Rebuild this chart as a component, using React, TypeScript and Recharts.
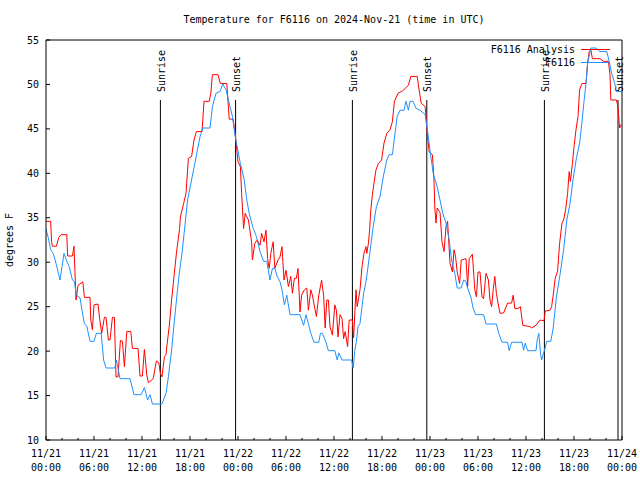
import { LineChart, Line, XAxis, YAxis, ReferenceLine } from 'recharts';

// hours since 11/21 00:00 UTC, degrees F
const analysisReadings: [number, number][] = [
  [0, 34.6], [0.58, 34.6], [0.7, 32.3], [0.8, 31.8], [1.3, 31.8], [1.6, 32.8], [1.9, 33.1],
  [2.6, 33.1], [2.7, 30.7], [3.3, 30.7], [3.5, 31.8], [3.75, 25.75], [4.0, 27.4], [4.6, 27.8],
  [4.8, 26.05], [5.5, 26.05], [5.6, 23.5], [5.8, 22.4], [6.0, 25.2], [6.5, 25.3], [6.7, 23.7],
  [6.96, 22], [7.3, 23.8], [7.5, 23.8], [7.8, 21.25], [8.0, 21.25], [8.3, 23.8], [8.55, 23.8],
  [8.75, 17.1], [9.0, 17.1], [9.3, 21.2], [9.55, 21.1], [9.8, 18.25], [10.1, 22.2], [10.6, 22.2],
  [10.8, 20.3], [11.5, 20.3], [11.75, 17.2], [12.05, 17.2], [12.3, 20.2], [12.6, 17.3],
  [12.8, 16.45], [13.4, 16.9], [13.8, 18.9], [14.1, 18.7], [14.3, 17.5], [14.5, 17.1],
  [14.8, 19.4], [15.0, 19.6], [15.1, 20.5], [15.4, 22.75], [15.7, 25.75], [16.0, 28.4],
  [16.3, 31.0], [16.7, 33.8], [16.8, 35.1], [17.2, 36.6], [17.5, 37.75], [17.8, 41.7],
  [18.2, 41.9], [18.5, 43.75], [18.8, 44.7], [19.5, 44.7], [19.75, 48.1], [20.4, 48.1],
  [20.6, 49.0], [20.8, 51.1], [21.5, 51.1], [21.8, 50.1], [22.6, 50.1], [22.9, 46.1],
  [23.4, 46.1], [23.75, 43.6], [24.0, 41.3], [24.3, 40.75], [24.45, 37.75], [24.7, 33.8],
  [24.9, 35.5], [25.3, 34.75], [25.7, 32.3], [25.8, 30.25], [26.1, 32.1], [26.4, 32.5],
  [26.75, 31.9], [26.95, 33.25], [27.25, 32.3], [27.5, 33.6], [27.7, 30.4], [27.9, 29.3],
  [28.1, 31], [28.4, 32.3], [28.6, 29.3], [29.0, 30.25], [29.25, 30.6], [29.5, 31.75],
  [29.75, 28], [30.0, 29.1], [30.3, 27.25], [30.6, 28.4], [30.8, 26.5], [31.05, 28.2],
  [31.3, 28.2], [31.5, 29.3], [31.75, 24.4], [31.95, 26.3], [32.3, 26.9], [32.6, 27.1],
  [32.8, 24.6], [33.1, 26.9], [33.3, 26.3], [33.6, 24.8], [33.8, 23.9], [34.1, 26.3],
  [34.45, 28], [34.7, 26.3], [34.9, 22.6], [35.1, 25.75], [35.3, 25.75], [35.5, 22.75],
  [35.8, 21.8], [36.1, 25.2], [36.3, 24.6], [36.5, 21.6], [36.75, 24.1], [37.0, 23.7],
  [37.2, 21.4], [37.4, 22.2], [37.7, 20.5], [37.9, 23.5], [38.3, 23.5], [38.45, 21.5],
  [38.75, 26.9], [38.9, 25], [39.25, 26.9], [39.5, 29.5], [39.75, 31], [40.0, 31.75],
  [40.1, 31], [40.3, 32.1], [40.45, 33.6], [40.6, 35.9], [40.8, 37.6], [41.0, 38.9],
  [41.25, 40.4], [41.55, 41.1], [41.95, 41.5], [42.25, 43.4], [42.6, 44.5], [43.0, 44.9],
  [43.3, 45.8], [43.55, 48.1], [44.0, 49.0], [44.6, 49.3], [45.3, 49.9], [45.6, 50.9],
  [46.4, 50.9], [46.7, 49.0], [46.9, 47.9], [47.4, 47.5], [47.7, 44.1], [47.9, 42.4],
  [48.3, 42.1], [48.5, 39.25], [48.6, 36.1], [48.75, 34.4], [48.9, 36.1], [49.25, 35.6],
  [49.5, 32.3], [49.75, 31.2], [50.0, 34.0], [50.2, 34.6], [50.5, 29.9], [50.8, 28.9],
  [51.0, 31.4], [51.2, 30.6], [51.4, 28.9], [51.7, 27.6], [51.9, 30.25], [52.5, 30.4],
  [52.7, 27.25], [52.9, 30.4], [53.3, 30.9], [53.6, 26.9], [53.8, 26.1], [54.0, 28.9],
  [54.25, 28.9], [54.5, 26.1], [54.7, 25.9], [55.0, 28.75], [55.3, 28.0], [55.5, 25.75],
  [55.7, 25.0], [55.9, 26.9], [56.1, 28.4], [56.3, 26.5], [56.5, 25.4], [56.75, 24.25],
  [57.2, 24.3], [57.7, 25.4], [58.2, 25.4], [58.4, 26.3], [58.6, 24.8], [59.0, 24.8],
  [59.3, 25.0], [59.6, 22.9], [60.5, 22.75], [60.7, 22.6], [61.25, 22.9], [61.75, 23.5],
  [62.25, 23.4], [62.4, 24.5], [63.0, 24.6], [63.2, 25.0], [63.4, 26.3], [63.65, 28.2],
  [63.95, 29.0], [64.2, 32.1], [64.5, 34.4], [64.7, 34.75], [64.95, 35.9], [65.2, 37.75],
  [65.4, 40.2], [65.55, 39.1], [65.8, 41.1], [66.0, 43.0], [66.25, 44.9], [66.5, 46.4],
  [66.7, 49.4], [67.0, 50.1], [67.5, 50.1], [67.7, 52.4], [67.9, 53.7], [68.1, 53.9],
  [68.3, 52.9], [69.25, 52.9], [69.7, 52.6], [70.3, 52.6], [70.5, 51.1], [70.6, 48.25],
  [71.3, 48.25], [71.5, 47.5], [71.7, 45.1], [71.9, 45.5],
];

const stationReadings: [number, number][] = [
  [0, 33.7], [0.3, 32.7], [0.58, 31.4], [0.9, 31.0], [1.3, 29.7], [1.75, 28.0], [2.0, 29.5],
  [2.25, 31.0], [2.6, 30.1], [2.9, 29.5], [3.3, 28.0], [3.55, 27.8], [3.8, 26.3], [4.25, 26.0],
  [4.5, 24.6], [4.8, 23.1], [5.1, 22.8], [5.5, 21.1], [6.0, 21.1], [6.3, 22.0], [6.9, 22.0],
  [7.2, 19.0], [7.5, 18.1], [8.6, 18.1], [8.8, 19.0], [9.25, 16.9], [10.5, 16.9], [11.0, 15.1],
  [11.9, 15.1], [12.3, 15.9], [12.7, 14.5], [13.0, 15.1], [13.3, 14.05], [14.5, 14.05],
  [15.0, 15.25], [15.3, 17.1], [15.7, 20.1], [16.1, 23.9], [16.6, 28.3], [17.0, 31.0],
  [17.7, 37.0], [18.6, 41.1], [19.25, 44.1], [19.6, 45.1], [20.5, 45.1], [20.8, 47.5],
  [21.25, 49.0], [21.75, 49.2], [22.1, 50.05], [22.5, 49.4], [22.9, 47.9], [23.3, 46.4],
  [23.7, 43.9], [24.3, 41.1], [24.75, 39.4], [25.1, 37.0], [25.4, 35.5], [25.9, 33.8],
  [26.3, 32.9], [26.75, 31.2], [27.2, 30.1], [27.6, 30.1], [28.0, 28.0], [28.3, 29.3],
  [28.6, 29.3], [28.9, 28.4], [29.25, 27.8], [29.5, 26.9], [29.8, 25.2], [30.1, 26.3],
  [30.5, 24.1], [31.75, 24.1], [32.2, 22.9], [32.5, 24.1], [32.8, 23.1], [33.1, 22.0],
  [33.5, 21.0], [34.1, 21.0], [34.3, 22.0], [34.55, 22.0], [35.0, 21.0], [35.3, 20.05],
  [36.1, 20.05], [36.4, 19.0], [36.6, 19.8], [37.0, 19.0], [38.2, 19.0], [38.4, 18.1],
  [38.6, 20.1], [38.8, 21.1], [39.0, 22.75], [39.25, 23.1], [39.5, 25.0], [39.7, 26.5],
  [40.0, 27.8], [40.4, 30.5], [40.9, 34.0], [41.3, 36.25], [41.75, 37.4], [42.2, 39.8],
  [42.6, 41.5], [42.9, 42.1], [43.3, 42.1], [43.6, 44.3], [43.9, 46.4], [44.25, 47.1],
  [44.75, 47.1], [45.0, 48.1], [45.3, 47.1], [45.5, 48.1], [45.9, 48.1], [46.25, 47.3],
  [46.75, 47.1], [47.4, 46.6], [47.7, 44.7], [48.0, 42.6], [48.4, 40.0], [48.9, 38.5],
  [49.25, 37.0], [49.6, 35.5], [50.0, 34.4], [50.4, 32.5], [50.7, 30.25], [51.1, 28.75],
  [51.4, 27.1], [51.9, 27.1], [52.2, 28.0], [52.45, 27.9], [52.7, 27.1], [53.1, 26.1],
  [53.4, 24.8], [53.7, 24.1], [54.7, 24.1], [55.0, 23.05], [56.3, 23.05], [56.6, 22.0],
  [57.0, 21.0], [57.7, 21.0], [57.9, 20.05], [58.2, 21.0], [59.5, 21.0], [59.7, 20.1],
  [59.9, 20.9], [60.2, 20.05], [61.25, 20.05], [61.4, 21.25], [61.6, 22.0], [61.8, 19.9],
  [61.95, 19.0], [62.25, 19.9], [62.6, 21.1], [63.1, 21.1], [63.4, 22.6], [63.8, 26.1],
  [64.25, 28.6], [64.7, 31.4], [65.1, 34.75], [65.5, 36.6], [65.9, 39.4], [66.3, 41.7],
  [66.7, 43.4], [67.0, 45.8], [67.25, 48.1], [67.5, 50.1], [67.7, 52.4], [68.1, 54.1],
  [68.8, 54.1], [69.2, 53.7], [70.1, 53.7], [70.4, 52.6], [70.7, 51.25], [71.1, 50.1],
  [71.3, 49.2], [71.9, 49.2],
];

const sunriseHours = [14.3, 38.3, 62.3];
const sunsetHours = [23.7, 47.6, 71.5];

const xTicks = [
  0, 2, 4, 6, 8, 10, 12, 14, 16, 18, 20, 22, 24, 26, 28, 30, 32, 34, 36,
  38, 40, 42, 44, 46, 48, 50, 52, 54, 56, 58, 60, 62, 64, 66, 68, 70, 72,
];
const yTicks = [10, 15, 20, 25, 30, 35, 40, 45, 50, 55];

const FONT = '"DejaVu Sans Mono", monospace';
const RED = '#ff0000';
const BLUE = '#1e90ff';
const markerTop = 48.25;

const analysis = analysisReadings.map(([hour, temp]) => ({ hour, temp }));
const station = stationReadings.map(([hour, temp]) => ({ hour, temp }));

const pad = (n: number) => (n < 10 ? '0' + n : String(n));

function BottomTick({ x, y, payload }: any) {
  const v = payload.value;
  const major = v % 6 === 0;
  return (
    <g>
      <line x1={x} x2={x} y1={y} y2={y - (major ? 4 : 2)} stroke="#000" />
      {major && (
        <text x={x} y={y} textAnchor="middle" fontSize={10} fontFamily={FONT} fill="#000">
          <tspan x={x} dy={17}>{`11/${21 + Math.floor(v / 24)}`}</tspan>
          <tspan x={x} dy={14}>{`${pad(v % 24)}:00`}</tspan>
        </text>
      )}
    </g>
  );
}

function TopTick({ x, y, payload }: any) {
  const major = payload.value % 6 === 0;
  return <line x1={x} x2={x} y1={y} y2={y + (major ? 4 : 2)} stroke="#000" />;
}

function LeftTick({ x, y, payload }: any) {
  return (
    <g>
      <line x1={x} x2={x + 4} y1={y} y2={y} stroke="#000" />
      <text x={x - 7} y={y} dy={3.5} textAnchor="end" fontSize={10} fontFamily={FONT} fill="#000">
        {payload.value}
      </text>
    </g>
  );
}

function RightTick({ x, y }: any) {
  return <line x1={x} x2={x - 4} y1={y} y2={y} stroke="#000" />;
}

function MarkerLabel({ viewBox, text }: any) {
  const x = viewBox.x + 1;
  const y = viewBox.y - 8;
  return (
    <text
      x={x}
      y={y}
      dy={3.5}
      transform={`rotate(-90, ${x}, ${y})`}
      textAnchor="start"
      fontSize={10}
      fontFamily={FONT}
      fill="#000"
    >
      {text}
    </text>
  );
}

export default function App() {
  return (
    <div style={{ position: 'absolute', left: 0, top: 0, width: 640, height: 480, background: '#fff' }}>
      <LineChart width={640} height={480} margin={{ top: 0, right: 0, bottom: 0, left: 0 }}>
        <XAxis
          dataKey="hour"
          type="number"
          domain={[0, 72]}
          ticks={xTicks}
          interval={0}
          height={40}
          tickSize={0}
          tickMargin={0}
          tickLine={false}
          axisLine={{ stroke: '#000' }}
          tick={<BottomTick />}
          allowDataOverflow
        />
        <XAxis
          xAxisId="top"
          orientation="top"
          dataKey="hour"
          type="number"
          domain={[0, 72]}
          ticks={xTicks}
          interval={0}
          height={40}
          tickSize={0}
          tickMargin={0}
          tickLine={false}
          axisLine={{ stroke: '#000' }}
          tick={<TopTick />}
        />
        <YAxis
          type="number"
          domain={[10, 55]}
          ticks={yTicks}
          interval={0}
          width={46}
          tickSize={0}
          tickMargin={0}
          tickLine={false}
          axisLine={{ stroke: '#000' }}
          tick={<LeftTick />}
          allowDataOverflow
        />
        <YAxis
          yAxisId="right"
          orientation="right"
          type="number"
          domain={[10, 55]}
          ticks={yTicks}
          interval={0}
          width={18}
          tickSize={0}
          tickMargin={0}
          tickLine={false}
          axisLine={{ stroke: '#000' }}
          tick={<RightTick />}
        />
        {sunriseHours.map((h) => (
          <ReferenceLine
            key={'r' + h}
            segment={[{ x: h, y: markerTop }, { x: h, y: 10 }]}
            stroke="#000"
            label={<MarkerLabel text="Sunrise" />}
          />
        ))}
        {sunsetHours.map((h) => (
          <ReferenceLine
            key={'s' + h}
            segment={[{ x: h, y: markerTop }, { x: h, y: 10 }]}
            stroke="#000"
            label={<MarkerLabel text="Sunset" />}
          />
        ))}
        <Line
          data={analysis}
          dataKey="temp"
          name="F6116 Analysis"
          type="linear"
          stroke={RED}
          strokeWidth={1}
          dot={false}
          isAnimationActive={false}
        />
        <Line
          data={station}
          dataKey="temp"
          name="F6116"
          type="linear"
          stroke={BLUE}
          strokeWidth={1}
          dot={false}
          isAnimationActive={false}
        />
      </LineChart>
      <svg
        width={640}
        height={480}
        style={{ position: 'absolute', left: 0, top: 0, pointerEvents: 'none' }}
        fontFamily={FONT}
        fontSize={10}
      >
        <text x={334} y={23} textAnchor="middle" fill="#000">
          Temperature for F6116 on 2024-Nov-21 (time in UTC)
        </text>
        <text x={13} y={240} transform="rotate(-90, 13, 240)" textAnchor="middle" fill="#000">
          degrees F
        </text>
        <text x={575} y={53} textAnchor="end" fill="#000">F6116 Analysis</text>
        <line x1={581} x2={610} y1={49.5} y2={49.5} stroke={RED} />
        <text x={575} y={66} textAnchor="end" fill="#000">F6116</text>
        <line x1={581} x2={610} y1={62.5} y2={62.5} stroke={BLUE} />
      </svg>
    </div>
  );
}
